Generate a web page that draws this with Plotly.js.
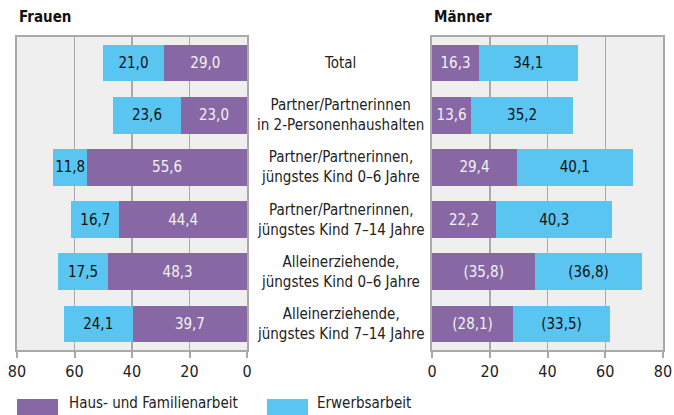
<!DOCTYPE html>
<html><head><meta charset="utf-8">
<script src="https://cdn.plot.ly/plotly-3.0.1.min.js"></script>
<style>html,body{margin:0;padding:0;background:#fff}#c{width:674px;height:415px}</style>
</head><body><div id="c"></div>
<script>
const categories = ["Total","Partner/Partnerinnen<br>in 2-Personenhaushalten","Partner/Partnerinnen,<br>jüngstes Kind 0–6 Jahre","Partner/Partnerinnen,<br>jüngstes Kind 7–14 Jahre","Alleinerziehende,<br>jüngstes Kind 0–6 Jahre","Alleinerziehende,<br>jüngstes Kind 7–14 Jahre"];
const frauenHaus = [29.0, 23.0, 55.6, 44.4, 48.3, 39.7];
const frauenErwerb = [21.0, 23.6, 11.8, 16.7, 17.5, 24.1];
const maennerHaus = [16.3, 13.6, 29.4, 22.2, 35.8, 28.1];
const maennerErwerb = [34.1, 35.2, 40.1, 40.3, 36.8, 33.5];
const maennerUnsicher = [false, false, false, false, true, true];
const tickVals = [0, 20, 40, 60, 80];
const seriesNames = ["Haus- und Familienarbeit", "Erwerbsarbeit"];

const FONT = "'Liberation Sans Narrow', 'DejaVu Sans Condensed', Arial Narrow, sans-serif";
const PURPLE = "#8868a4", BLUE = "#5bc5f2", GRID = "#a9a9a9";
const fmt = v => v.toFixed(1).replace('.', ',');
const fmtM = (arr) => arr.map((v, i) => maennerUnsicher[i] ? '(' + fmt(v) + ')' : fmt(v));
const W = 674, H = 415;
const px = x => x / W, py = y => 1 - y / H;

const common = {type: 'bar', orientation: 'h', y: categories, textposition: 'inside', insidetextanchor: 'middle', textangle: 0, constraintext: 'none', hoverinfo: 'none', showlegend: false};
const traces = [
  Object.assign({}, common, {x: frauenHaus, name: seriesNames[0], marker: {color: PURPLE}, text: frauenHaus.map(fmt), textfont: {color: '#f2f2f2', size: 15, family: FONT}, xaxis: 'x', yaxis: 'y'}),
  Object.assign({}, common, {x: frauenErwerb, name: seriesNames[1], marker: {color: BLUE}, text: frauenErwerb.map(fmt), textfont: {color: '#111', size: 15, family: FONT}, xaxis: 'x', yaxis: 'y'}),
  Object.assign({}, common, {x: maennerHaus, name: seriesNames[0], marker: {color: PURPLE}, text: fmtM(maennerHaus), textfont: {color: '#f2f2f2', size: 15, family: FONT}, xaxis: 'x2', yaxis: 'y2'}),
  Object.assign({}, common, {x: maennerErwerb, name: seriesNames[1], marker: {color: BLUE}, text: fmtM(maennerErwerb), textfont: {color: '#111', size: 15, family: FONT}, xaxis: 'x2', yaxis: 'y2'})
];

const xCommon = {tickvals: tickVals, showgrid: true, gridcolor: GRID, gridwidth: 1.5, zeroline: false, showline: true, mirror: true, linecolor: GRID, linewidth: 2, ticks: 'outside', ticklen: 6, tickcolor: GRID, tickwidth: 2, tickfont: {size: 16, color: '#222', family: FONT}, fixedrange: true};
const yCommon = {domain: [py(350), py(37)], range: [5.5, -0.5], showticklabels: false, showgrid: false, zeroline: false, showline: true, mirror: true, linecolor: GRID, linewidth: 2, ticks: ''};

const annotations = categories.map(c => ({xref: 'paper', yref: 'y', x: px(340), y: c, text: c, showarrow: false, xanchor: 'center', yanchor: 'middle', font: {size: 15, color: '#222', family: FONT}, align: 'center'}));
annotations.push({xref: 'paper', yref: 'paper', x: px(17), y: py(17), text: '<b>Frauen</b>', showarrow: false, xanchor: 'left', yanchor: 'middle', font: {size: 15, color: '#111', family: FONT}});
annotations.push({xref: 'paper', yref: 'paper', x: px(432), y: py(17), text: '<b>Männer</b>', showarrow: false, xanchor: 'left', yanchor: 'middle', font: {size: 15, color: '#111', family: FONT}});
annotations.push({xref: 'paper', yref: 'paper', x: px(67), y: py(414), text: seriesNames[0], showarrow: false, xanchor: 'left', yanchor: 'bottom', font: {size: 15, color: '#222', family: FONT}});
annotations.push({xref: 'paper', yref: 'paper', x: px(315), y: py(414), text: seriesNames[1], showarrow: false, xanchor: 'left', yanchor: 'bottom', font: {size: 15, color: '#222', family: FONT}});

const shapes = [
  {type: 'rect', xref: 'paper', yref: 'paper', x0: px(17), x1: px(58), y0: py(416), y1: py(399), fillcolor: PURPLE, line: {width: 0}},
  {type: 'rect', xref: 'paper', yref: 'paper', x0: px(267), x1: px(308), y0: py(416), y1: py(399), fillcolor: BLUE, line: {width: 0}}
];

const layout = {
  width: W, height: H, margin: {l: 0, r: 0, t: 0, b: 0},
  paper_bgcolor: '#fff', plot_bgcolor: '#efefef',
  barmode: 'stack', bargap: 0.3,
  font: {family: FONT},
  xaxis: Object.assign({}, xCommon, {domain: [px(17), px(247)], range: [80, 0], anchor: 'y'}),
  yaxis: Object.assign({}, yCommon, {anchor: 'x'}),
  xaxis2: Object.assign({}, xCommon, {domain: [px(432), px(663)], range: [0, 80], anchor: 'y2'}),
  yaxis2: Object.assign({}, yCommon, {anchor: 'x2'}),
  annotations: annotations, shapes: shapes, showlegend: false
};
Plotly.newPlot('c', traces, layout, {displayModeBar: false, staticPlot: true});
</script></body></html>
